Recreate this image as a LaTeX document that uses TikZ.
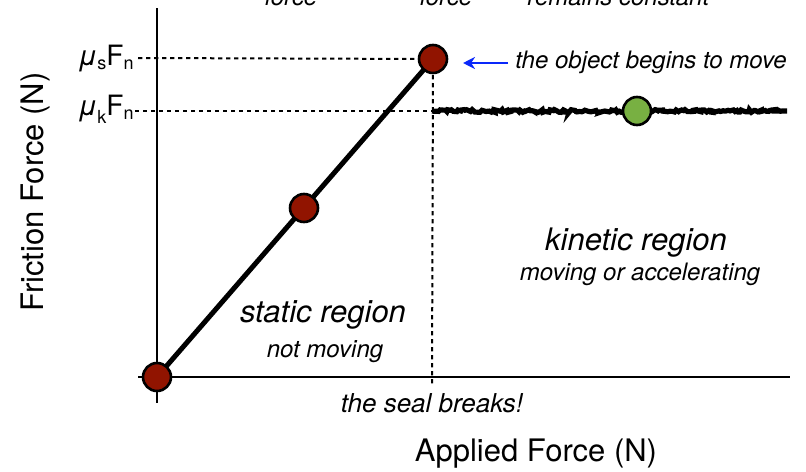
\documentclass[tikz,border=0pt]{standalone}
\usepackage{fontspec}
\setmainfont{TeX Gyre Heros}
\usetikzlibrary{arrows.meta,decorations.pathmorphing}
\definecolor{ballred}{RGB}{145,20,0}
\definecolor{ballgreen}{RGB}{120,176,66}
\definecolor{arrowblue}{RGB}{10,40,250}
\newcommand{\fsub}[2][2pt]{\raisebox{-#1}{\fontsize{9}{9}\selectfont #2}}

\begin{document}
\begin{tikzpicture}[x=0.5pt, y=-0.5pt,
      every node/.append style={inner sep=0pt, font=\fontsize{12}{14}\selectfont\itshape},
      big/.style={font=\fontsize{15.5}{18}\selectfont\itshape},
      axlabel/.style={font=\fontsize{15.5}{18}\selectfont},
      level/.style={font=\fontsize{14}{16}\selectfont},
      ball/.style={circle, draw=black, line width=1.3pt, minimum size=14pt, fill=ballred},
      guide/.style={dash pattern=on 2.2pt off 1.8pt, line width=1pt}]
    \useasboundingbox (0,0) rectangle (806,471);
    \coordinate (ytop) at (157,8);
    \coordinate (ybot) at (157,403);
    \coordinate (xl) at (138,377);
    \coordinate (xr) at (790,377);
    \coordinate (o) at (157,377);
    \coordinate (mid) at (304,208);
    \coordinate (peak) at (433,59);
    \coordinate (seal) at (432,386);
    \coordinate (ks) at (432,111);
    \coordinate (ke) at (787,111);
    \coordinate (kin) at (637,111);
    \coordinate (sguide) at (138,58);
    \coordinate (kguide) at (135,111);
    \coordinate (arrs) at (508,63);
    \coordinate (arre) at (463,63);
    \draw[line width=1.3pt] (ytop) -- (ybot);
    \draw[line width=1.3pt] (xl) -- (xr);
    \draw[guide] (sguide) -- (peak);
    \draw[guide] (kguide) -- (ks);
    \draw[guide] (peak) -- (seal);
    \draw[line width=2.5pt] (o) -- (peak);
    \draw[line width=2.6pt, decorate,
      decoration={random steps, segment length=1pt, amplitude=0.7pt}] (ks) -- (ke);
    \draw[arrowblue, line width=1pt, -{Stealth[length=6pt, width=6pt]}] (arrs) -- (arre);
    \node[ball] (ballo) at (o) {};
    \node[ball] (ballmid) at (mid) {};
    \node[ball] (ballpeak) at (peak) {};
    \node[ball, fill=ballgreen] (ballkin) at (kin) {};
    \node[level, anchor=base east] (mus) at (134,65) {\textit{μ}\fsub{s}F\fsub{n}};
    \node[level, anchor=base east] (muk) at (134,115) {\textit{μ}\fsub[4pt]{k}F\fsub{n}};
    \node[anchor=base west] (move) at (515,68) {the object begins to move};
    \node[big, anchor=base] (kinreg) at (636,250) {kinetic region};
    \node[anchor=base] (kinsub) at (640,280) {moving or accelerating};
    \node[big, anchor=base] (statreg) at (323,322) {static region};
    \node[anchor=base] (statsub) at (325,357) {not moving};
    \node[font=\fontsize{13}{15}\selectfont\itshape, anchor=base] (breaks) at (432,412) {the seal breaks!};
    \node[axlabel, anchor=base] (xlabel) at (536,461) {Applied Force (N)};
    \node[axlabel, anchor=base, rotate=90] (ylabel) at (43,192) {Friction Force (N)};
    \node[anchor=base] (topa) at (291,5) {force};
    \node[anchor=base] (topb) at (446,5) {force};
    \node[anchor=base west] (topc) at (527,5) {remains constant};
\end{tikzpicture}
\end{document}
